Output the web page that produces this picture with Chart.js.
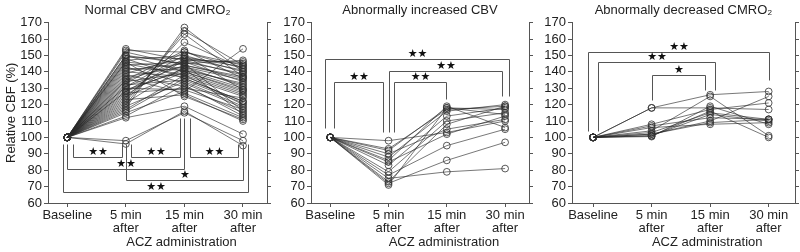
<!DOCTYPE html>
<html>
<head>
<meta charset="utf-8">
<script src="https://cdn.jsdelivr.net/npm/chart.js@4/dist/chart.umd.min.js"></script>
<style>
  html, body { margin: 0; padding: 0; background: #fff; }
  #wrap { position: relative; width: 800px; height: 252px; overflow: hidden; }
  canvas { position: absolute; top: 0; }
</style>
</head>
<body>
<div id="wrap">
  <canvas id="c1" width="272" height="252" style="left:0px;width:272px;height:252px"></canvas>
  <canvas id="c2" width="264" height="252" style="left:270px;width:264px;height:252px"></canvas>
  <canvas id="c3" width="270" height="252" style="left:530px;width:270px;height:252px"></canvas>
</div>
<script>
// Time points (x) and y tick values
const timeLabels = [['Baseline'], ['5 min', 'after'], ['15 min', 'after'], ['30 min', 'after']];
const yTickValues = [60, 70, 80, 90, 100, 110, 120, 130, 140, 150, 160, 170];
const baselineValue = 100;

// Normal CBV and CMRO2 - relative CBF per subject
const normal5 = [154,153,152,150,149,148,147,146,145,144,143,142,141,140,139,138,137,136,135,134,133,132,131,130,129,128,127,126,125,124,123,122,121,120,119,118,117,115,113,112,98,96,150,146,128,135,131,116];
const normal15 = [147,152,144,140,148,136,150,142,138,146,133,141,145,137,149,131,143,127,146,139,152,135,144,129,141,148,130,147,140,158,126,163,143,165,134,167,138,128,132,119,115,116,145,125,142,153,150,136];
const normal30 = [138,142,136,128,145,122,140,132,120,134,118,130,147,125,143,115,135,112,139,127,144,121,137,117,133,141,124,146,129,142,110,137,131,144,119,140,126,154,113,102,98,95,116,111,114,136,129,122];

// Abnormally increased CBV
const inc5 = [98,93,92,90,88,86,85,83,79,77,75,73,72,71];
const inc15 = [103,117,118,105,116,119,102,113,110,95,79,108,86,118];
const inc30 = [110,119,117,111,120,106,113,118,115,105,81,119,97,114];

// Abnormally decreased CMRO2
const dec5 = [118,118,108,107,106,104,103,102,101,101,100.5,102];
const dec15 = [126,118,117,112,108,125,115,110,116,114,119,109];
const dec30 = [128,117,121,111,109,101,111,125,100,110,108,111];

// Significance brackets: [from x, to x, from-end top, to-end top, bar level, mark]
const normalBrackets = [
  [0.09, 0.93, 96, 96, 88, '★★'],
  [1.08, 1.92, 96, 112, 88, '★★'],
  [2.09, 2.92, 112, 96, 88, '★★'],
  [0.0, 2.0, 96, 112, 81, '★★'],
  [1.0, 3.0, 96, 96, 74, '★'],
  [-0.08, 3.09, 96, 96, 67, '★★']
];
const incBrackets = [
  [-0.09, 3.06, 105.5, 125, 148, '★★'],
  [0.07, 0.91, 105.5, 103, 133.5, '★★'],
  [1.0, 2.94, 103, 125, 140.5, '★★'],
  [1.09, 1.99, 103, 123.5, 133.5, '★★']
];
const decBrackets = [
  [-0.08, 3.01, 104, 135, 152, '★★'],
  [0.08, 2.08, 104, 129, 146, '★★'],
  [1.0, 1.91, 123, 129, 138, '★']
];

const FONT = 'Liberation Sans, Arial, sans-serif';
const AXIS = '#555';

// Draws the brackets with their stars and the x axis caption
const extrasPlugin = {
  id: 'extras',
  afterDatasetsDraw(chart, args, opts) {
    const ctx = chart.ctx;
    const xs = chart.scales.x, ys = chart.scales.y;
    const px = v => Math.round(xs.getPixelForValue(v)) + 0.5;
    const py = v => Math.round(ys.getPixelForValue(v)) + 0.5;
    ctx.save();
    ctx.strokeStyle = AXIS;
    ctx.lineWidth = 1;
    ctx.fillStyle = '#111';
    ctx.font = '11px "DejaVu Sans"';
    ctx.textAlign = 'center';
    ctx.textBaseline = 'middle';
    (opts.brackets || []).forEach(b => {
      const x1 = px(b[0]), x2 = px(b[1]), yl = py(b[4]);
      ctx.beginPath();
      ctx.moveTo(x1, py(b[2]));
      ctx.lineTo(x1, yl);
      ctx.lineTo(x2, yl);
      ctx.lineTo(x2, py(b[3]));
      ctx.stroke();
      ctx.fillText(b[5], (x1 + x2) / 2, yl - 5);
    });
    ctx.fillStyle = '#222';
    ctx.font = '13px ' + FONT;
    ctx.fillText('ACZ administration', xs.getPixelForValue(1.95), 242.5);
    ctx.restore();
  }
};

function makePanel(id, title, v5, v15, v30, brackets, yWidth, xMin, xMax, yTitle) {
  const datasets = v5.map((v, i) => ({
    data: [
      { x: 0, y: baselineValue },
      { x: 1, y: v },
      { x: 2, y: v15[i] },
      { x: 3, y: v30[i] }
    ],
    borderColor: 'rgba(40,40,40,0.7)',
    borderWidth: 0.9,
    pointRadius: 3.4,
    pointBorderWidth: 0.9,
    pointBorderColor: 'rgba(50,50,50,0.9)',
    pointBackgroundColor: 'rgba(0,0,0,0)',
    tension: 0
  }));

  new Chart(document.getElementById(id), {
    type: 'line',
    data: { datasets: datasets },
    plugins: [extrasPlugin],
    options: {
      responsive: false,
      animation: false,
      layout: { padding: 0 },
      plugins: {
        legend: { display: false },
        tooltip: { enabled: false },
        title: {
          display: true,
          text: title,
          fullSize: false,
          color: '#222',
          font: { family: FONT, size: 13, weight: 'normal' },
          padding: { top: 3, bottom: 4 }
        },
        extras: { brackets: brackets }
      },
      scales: {
        x: {
          type: 'linear',
          min: xMin,
          max: xMax,
          afterBuildTicks: s => { s.ticks = timeLabels.map((t, i) => ({ value: i })); },
          afterFit: s => { s.height = 49; },
          ticks: {
            callback: (v, i) => timeLabels[i],
            autoSkip: false,
            maxRotation: 0,
            color: '#222',
            padding: 2,
            font: { family: FONT, size: 13, lineHeight: 1 }
          },
          grid: { drawOnChartArea: false, drawTicks: true, tickLength: 4, color: AXIS },
          border: { color: AXIS }
        },
        y: {
          position: 'left',
          min: 60,
          max: 170,
          afterBuildTicks: s => { s.ticks = yTickValues.map(v => ({ value: v })); },
          afterFit: s => { s.width = yWidth; },
          ticks: {
            autoSkip: false,
            color: '#222',
            padding: 2,
            font: { family: FONT, size: 13 }
          },
          grid: { drawOnChartArea: false, drawTicks: true, tickLength: 4, color: AXIS },
          border: { color: AXIS },
          title: {
            display: !!yTitle,
            text: yTitle || '',
            color: '#222',
            font: { family: FONT, size: 13 },
            padding: { top: 4, bottom: 0 }
          }
        },
        yr: {
          position: 'right',
          min: 60,
          max: 170,
          afterBuildTicks: s => { s.ticks = yTickValues.map(v => ({ value: v })); },
          afterFit: s => { s.width = 5; },
          ticks: { autoSkip: false, callback: () => '', padding: 0 },
          grid: { drawOnChartArea: false, drawTicks: true, tickLength: 4, color: AXIS },
          border: { color: AXIS }
        }
      }
    }
  });
}

makePanel('c1', 'Normal CBV and CMRO₂', normal5, normal15, normal30, normalBrackets, 48, -0.33, 3.41, 'Relative CBF (%)');
makePanel('c2', 'Abnormally increased CBV', inc5, inc15, inc30, incBrackets, 41, -0.33, 3.41, '');
makePanel('c3', 'Abnormally decreased CMRO₂', dec5, dec15, dec30, decBrackets, 42, -0.36, 3.45, '');
</script>
</body>
</html>
